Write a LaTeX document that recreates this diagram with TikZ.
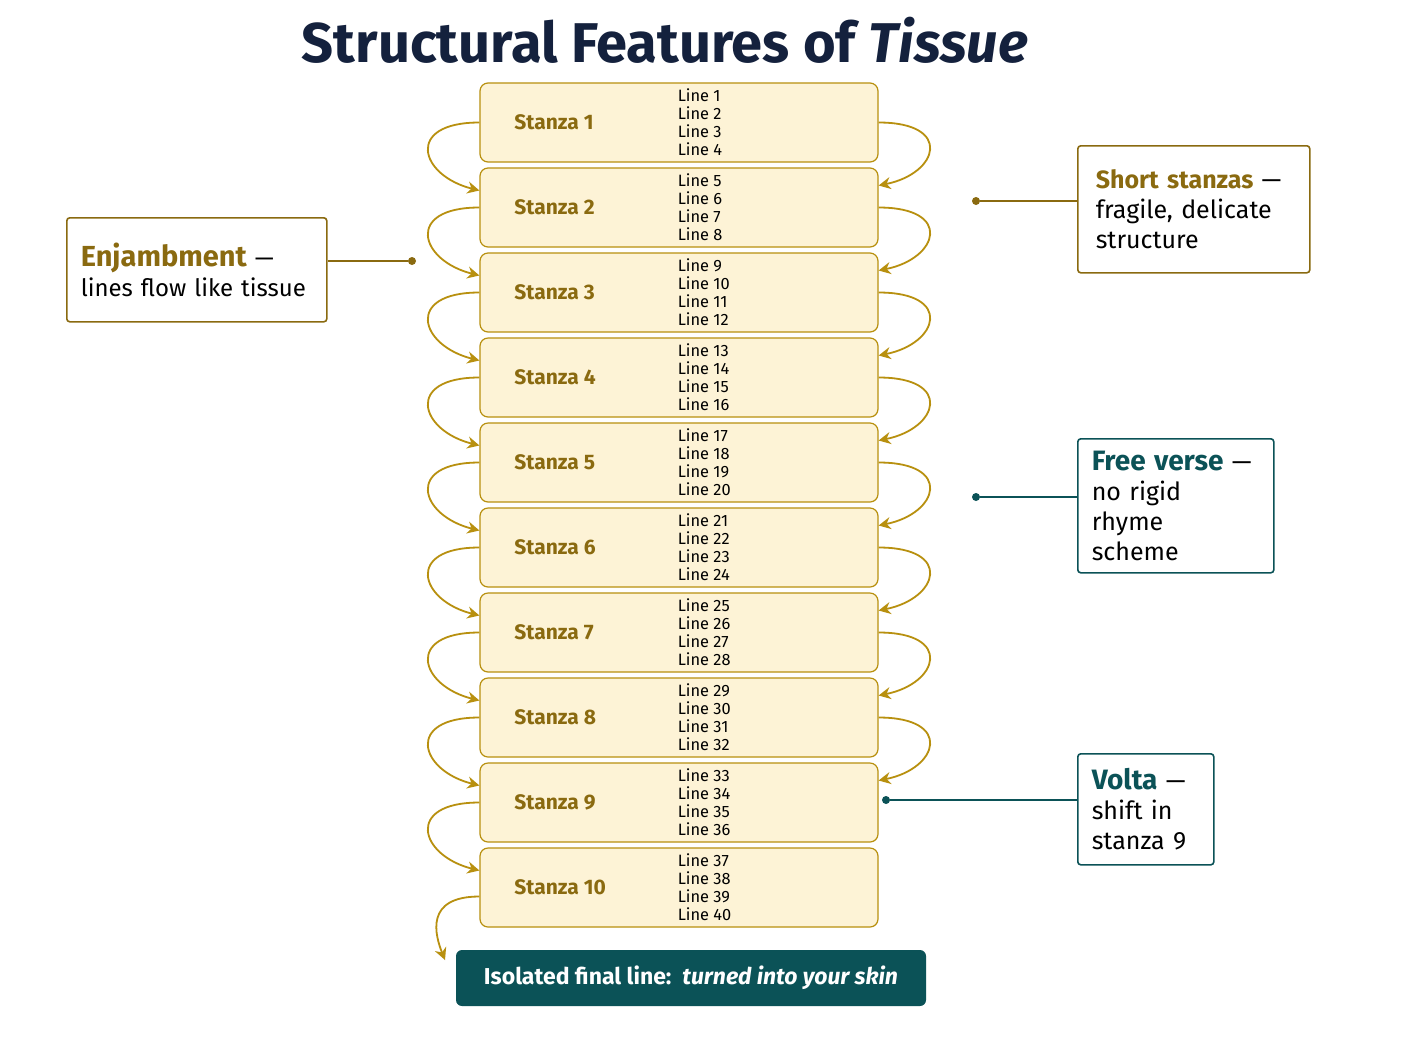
\documentclass[tikz,border=0pt]{standalone}
\usepackage{fontspec}
\setmainfont{Fira Sans}
\usetikzlibrary{positioning,calc,arrows.meta}
\hyphenpenalty=10000

\definecolor{gold}{HTML}{8A6A10}
\definecolor{goldline}{HTML}{B8900F}
\definecolor{cream}{HTML}{FDF3D6}
\definecolor{teal}{HTML}{0B5257}
\definecolor{navy}{HTML}{14213D}

\tikzset{
  stanzabox/.style={draw=goldline, fill=cream, rounded corners=4pt, line width=0.6pt,
    minimum width=199pt, minimum height=39.5pt, inner sep=0pt},
  flow/.style={-{Stealth[length=6pt,width=6pt]}, draw=goldline, line width=0.9pt},
  callout/.style={draw=#1, fill=white, line width=0.8pt, rounded corners=1.5pt,
    align=left, anchor=north west, inner sep=0pt, font=\fontsize{12.5}{15}\selectfont},
  pin/.style={draw=#1, line width=0.8pt},
  dot/.style={circle, fill=#1, inner sep=0pt, minimum size=4pt}
}

\begin{document}
\begin{tikzpicture}[x=0.5pt,y=-0.5pt]
  \useasboundingbox[fill=white] (0,0) rectangle (1408,1056);

  \node[font=\bfseries\fontsize{28}{32}\selectfont, text=navy] (title) at (665,40)
    {Structural Features of \textit{Tissue}};

  % stanza boxes
  \foreach \i in {1,...,10} {
    \pgfmathtruncatemacro{\a}{4*\i-3}
    \pgfmathtruncatemacro{\b}{4*\i-2}
    \pgfmathtruncatemacro{\c}{4*\i-1}
    \pgfmathtruncatemacro{\d}{4*\i}
    \node[stanzabox] (s\i) at (679,{122.5+85*(\i-1)}) {};
    \node[anchor=west, text=gold, font=\bfseries\fontsize{10.5}{12}\selectfont]
      (lab\i) at ([xshift=14pt]s\i.west) {Stanza \i};
    \node[anchor=west, align=left, inner sep=0pt, font=\fontsize{8.2}{9}\selectfont]
      (ln\i) at ([xshift=99pt]s\i.west) {Line \a\\Line \b\\Line \c\\Line \d};
  }

  % flow arrows
  \foreach \i [evaluate=\i as \j using int(\i+1)] in {1,...,9} {
    \draw[flow] (s\i.west) .. controls +(-75,0) and +(-60,-15) .. ([yshift=8.5pt]s\j.west);
  }
  \foreach \i [evaluate=\i as \j using int(\i+1)] in {1,...,8} {
    \draw[flow] (s\i.east) .. controls +(75,0) and +(60,-12) .. ([yshift=11pt]s\j.east);
  }
  \coordinate (endin) at (445,960);
  \draw[flow] ([yshift=-4.5pt]s10.west) .. controls +(-55,0) and +(-10,-25) .. (endin);

  % final line
  \node[fill=teal, rounded corners=3pt, minimum width=235pt, minimum height=28pt,
    text=white, font=\bfseries\fontsize{11.5}{14}\selectfont] (final) at (691,978)
    {Isolated final line:\ \ \textit{turned into your skin}};

  % callouts
  \node[callout=gold, minimum width=130pt, minimum height=52pt, text width=116pt,
    inner xsep=7pt, font=\fontsize{12}{15}\selectfont] (enj) at (66,217)
    {\textcolor{gold}{\bfseries\fontsize{14.5}{17}\selectfont Enjambment} —\\lines flow like tissue};
  \node[dot=gold] (enjdot) at (412,261) {};
  \draw[pin=gold] (enj.east |- enjdot) -- (enjdot);

  \node[callout=gold, minimum width=116pt, minimum height=63.5pt, text width=98pt,
    inner xsep=9pt] (short) at (1077,145)
    {\textcolor{gold}{\bfseries Short stanzas} —\\fragile, delicate\\structure};
  \node[dot=gold] (shortdot) at (976,201) {};
  \draw[pin=gold] (short.west |- shortdot) -- (shortdot);

  \node[callout=teal, minimum width=98pt, minimum height=67pt, text width=84pt,
    inner xsep=7pt] (free) at (1077,438)
    {\textcolor{teal}{\bfseries\fontsize{14}{17}\selectfont Free verse} —\\no rigid rhyme\\scheme};
  \node[dot=teal] (freedot) at (976,497) {};
  \draw[pin=teal] (free.west |- freedot) -- (freedot);

  \node[callout=teal, minimum width=68pt, minimum height=55.5pt, text width=54pt,
    inner xsep=7pt] (volta) at (1077,753)
    {\textcolor{teal}{\bfseries\fontsize{14}{17}\selectfont Volta} —\\shift in\\stanza 9};
  \node[dot=teal] (voltadot) at (886,800) {};
  \draw[pin=teal] (volta.west |- voltadot) -- (voltadot);
\end{tikzpicture}
\end{document}
